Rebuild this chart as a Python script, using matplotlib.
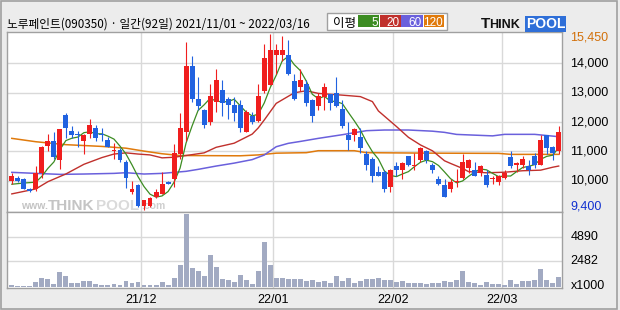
import numpy as np
import pandas as pd
import matplotlib.pyplot as plt
from matplotlib.patches import Rectangle

# 노루페인트(090350) 일봉 2021/11/01 ~ 2022/03/16, 92 거래일
opens = [10000, 10100, 10050, 9700, 9700, 10250, 11200, 11350, 10700, 12250,
         11700, 11600, 11350, 11600, 11800, 11600, 11400, 11000, 11050, 10650,
         9600, 9850, 9150, 9150, 9450, 9550, 9950, 10050, 10900, 11650,
         13900, 12800, 12400, 12000, 12700, 13100, 12800, 12600, 12600, 11650,
         12200, 12050, 13050, 13250, 14300, 14300, 14300, 13400, 13200, 13300,
         12750, 12550, 12850, 12950, 13000, 12450, 11550, 11550, 11500, 10900,
         10750, 10300, 10300, 9800, 10500, 10350, 10850, 10500, 10700, 11000,
         10550, 10050, 9850, 9700, 9950, 10100, 10450, 10350, 10250, 10200,
         10050, 9950, 10100, 10800, 10550, 10550, 10500, 10850, 10550, 11550,
         11150, 11000]
highs = [10250, 10150, 10100, 9750, 10500, 11200, 11600, 11650, 11750, 12300,
         11850, 11700, 11600, 12100, 11900, 11800, 11500, 11300, 11100, 10700,
         10000, 9900, 9350, 9450, 9700, 10300, 10000, 11250, 12300, 14750,
         14250, 13550, 12450, 13300, 13800, 13450, 12850, 12850, 12750, 12400,
         12350, 13300, 14650, 15000, 14650, 14950, 14800, 13650, 13800, 13450,
         12800, 13000, 13350, 12950, 13550, 12750, 12000, 11800, 11800, 11000,
         10800, 10500, 10350, 10400, 10650, 10650, 10850, 10950, 11150, 11050,
         10600, 10150, 10050, 10050, 10400, 10900, 10750, 10650, 10550, 10350,
         10150, 10200, 10350, 11000, 10650, 10850, 10700, 10950, 11550, 11550,
         11200, 11850]
lows = [9900, 9950, 9700, 9600, 9650, 10100, 11000, 10750, 10400, 11450,
        11450, 11150, 10900, 11450, 11350, 11350, 11150, 10750, 10650, 9750,
        9550, 9100, 9000, 9100, 9400, 9550, 9900, 9800, 10750, 11350,
        12700, 12400, 11800, 11900, 12350, 12200, 12100, 12050, 11650, 11650,
        11950, 12000, 13000, 13250, 13650, 14100, 13600, 12750, 13050, 12550,
        12000, 12400, 12400, 12400, 12500, 11800, 11050, 11350, 10950, 10350,
        9950, 10150, 9600, 9600, 10150, 10050, 10500, 10350, 10650, 10600,
        10250, 9850, 9450, 9600, 9800, 10050, 10250, 10150, 10150, 9800,
        9900, 9850, 10050, 10450, 10300, 10450, 10200, 10450, 10550, 10900,
        10700, 10900]
closes = [10150, 10000, 9700, 9650, 10250, 11150, 11350, 10800, 11750, 11800,
          11550, 11550, 11550, 11900, 11450, 11550, 11150, 11050, 10700, 10100,
          9700, 9150, 9350, 9400, 9600, 9900, 9900, 10950, 11800, 13900,
          12800, 12550, 11900, 12900, 13450, 12650, 12600, 12300, 11800, 12350,
          12000, 12900, 14200, 14450, 14450, 14450, 13650, 12800, 13450, 12650,
          12200, 12900, 13200, 12650, 12550, 11850, 11400, 11750, 11100, 10550,
          10150, 10150, 9700, 10350, 10350, 10600, 10550, 10550, 11100, 10700,
          10350, 9900, 9450, 9950, 10000, 10650, 10700, 10150, 10500, 9850,
          10050, 10150, 10250, 10500, 10600, 10750, 10350, 10550, 11400, 11100,
          10950, 11650]
volumes = [163, 65, 65, 65, 490, 850, 752, 262, 1439, 1046,
           392, 392, 556, 556, 262, 163, 163, 262, 163, 556,
           392, 458, 163, 163, 163, 458, 163, 850, 2158, 7129,
           1831, 1537, 1046, 3107, 1929, 752, 654, 458, 1145, 654,
           262, 1537, 4382, 2126, 850, 850, 752, 752, 752, 556,
           654, 490, 556, 392, 1046, 621, 850, 392, 621, 752,
           752, 850, 654, 654, 458, 556, 392, 392, 392, 327,
           392, 392, 556, 458, 654, 1537, 458, 360, 163, 458,
           262, 262, 163, 654, 327, 556, 556, 654, 1733, 654,
           360, 948]

# 이동평균선
ma5_head = [9880, 9900, 9920, 9935]
ma20_idx = [0, 4, 6, 9, 12, 15, 17, 19, 21, 23, 25, 27, 29, 32, 34, 37, 40, 41, 42,
            44, 45, 47, 49, 51, 55, 58, 60, 61, 64, 66, 68, 70, 72, 73, 75, 76, 79,
            82, 85, 88, 90, 91]
ma20_val = [9550, 9720, 9966, 10230, 10560, 10790, 10910, 10950, 10910, 10880, 10780,
            10800, 10860, 10950, 11140, 11280, 11590, 11800, 12070, 12640, 12760,
            13000, 13070, 12980, 12920, 12870, 12700, 12380, 11850, 11480, 11220,
            11020, 10680, 10590, 10420, 10310, 10270, 10290, 10340, 10360, 10460, 10500]
ma60_idx = [0, 4, 8, 12, 17, 19, 22, 25, 29, 31, 34, 37, 40, 42, 44, 46, 48, 51, 55,
            59, 62, 66, 70, 72, 74, 80, 82, 87, 91]
ma60_val = [10285, 10250, 10216, 10228, 10250, 10273, 10228, 10250, 10320, 10387,
            10500, 10600, 10720, 10876, 11160, 11275, 11340, 11445, 11570, 11707,
            11730, 11730, 11690, 11650, 11580, 11530, 11582, 11582, 11502]
ma120_idx = [0, 4, 9, 15, 19, 22, 25, 28, 38, 41, 44, 49, 51, 57, 59, 70, 81, 83, 91]
ma120_val = [11445, 11330, 11230, 11170, 11110, 11010, 10920, 10860, 10850, 10880,
             10940, 10956, 11024, 11024, 10956, 10940, 10933, 10899, 10899]

price_ticks = [10000, 11000, 12000, 13000, 14000]
price_labels = ['10,000', '11,000', '12,000', '13,000', '14,000']
vol_ticks = [2482, 4890]
month_pos = [21.5, 43.5, 63.5, 81.5]
month_labels = ['21/12', '22/01', '22/02', '22/03']

RED = '#f01e1e'
BLUE = '#2162e0'
C5, C20, C60, C120 = '#3c8c22', '#c0302c', '#6a60dc', '#e07a0c'
GRID = '#d9d9d9'
EDGE = '#a0a0a0'
num_font = ['Liberation Sans', 'DejaVu Sans']
kr_font = ['Noto Sans CJK KR', 'DejaVu Sans']

o = np.array(opens, float)
h = np.array(highs, float)
l = np.array(lows, float)
c = np.array(closes, float)
x = np.arange(len(c))
ma5 = pd.Series(c).rolling(5).mean().to_numpy()
ma5[:4] = ma5_head

fig = plt.figure(figsize=(6.2, 3.1), dpi=100, facecolor='#ececec')
W, H = 620, 310
L, R, T, M, B = 7.3, 562.3, 31.5, 212, 287.7
ax = fig.add_axes([L / W, (H - M) / H, (R - L) / W, (M - T) / H])
axv = fig.add_axes([L / W, (H - B) / H, (R - L) / W, (B - M) / H])

# 가격 패널
up = c >= o
col = np.where(up, RED, BLUE)
ax.vlines(x, l, h, colors=col, linewidth=0.8, zorder=3)
body_lo = np.minimum(o, c)
body_h = np.maximum(np.abs(c - o), 35)
ax.bar(x, body_h, bottom=body_lo, width=0.82, color=col, linewidth=0, zorder=4)
ax.plot(np.array(ma120_idx), ma120_val, color=C120, lw=1.1, zorder=2)
ax.plot(np.array(ma60_idx), ma60_val, color=C60, lw=1.1, zorder=2)
ax.plot(np.array(ma20_idx), ma20_val, color=C20, lw=1.0, zorder=2)
ax.plot(x, ma5, color=C5, lw=0.9, zorder=2)
ax.set_xlim(-0.75, 91.6)
ax.set_ylim(8932, 15092)
ax.set_yticks(price_ticks)
ax.set_xticks(month_pos)
ax.grid(color=GRID, lw=1)
ax.set_axisbelow(True)

# 워터마크
fx = lambda px: (px - L) / (R - L)
fy = lambda py: (M - py) / (M - T)
ax.text(fx(21), fy(209), 'www.', transform=ax.transAxes, fontsize=7.5,
        color='#c4c4c4', fontweight='bold', family=num_font, zorder=1)
ax.text(fx(48), fy(210), 'THINK', transform=ax.transAxes, fontsize=11,
        color='#c4c4c4', fontweight='bold', family=num_font, zorder=1)
ax.text(fx(96), fy(210), 'POOL', transform=ax.transAxes, fontsize=11,
        color='#dadada', fontweight='bold', family=num_font, zorder=1)
ax.text(fx(141), fy(209), '.com', transform=ax.transAxes, fontsize=7.5,
        color='#cfcfcf', fontweight='bold', family=num_font, zorder=1)

# 거래량 패널
axv.bar(x, volumes, width=0.82, color='#a2aac2', linewidth=0, zorder=3)
axv.set_xlim(-0.75, 91.6)
axv.set_ylim(-68, 7275)
axv.set_yticks(vol_ticks)
axv.set_xticks(month_pos)
axv.grid(color=GRID, lw=1)
axv.set_axisbelow(True)

for a in (ax, axv):
    a.set_facecolor('white')
    a.tick_params(length=0, labelleft=False, labelbottom=False)
    for s in a.spines.values():
        s.set_color(EDGE)
        s.set_linewidth(1)

# 머리글, 축 글자 (픽셀 좌표)
ov = fig.add_axes([0, 0, 1, 1], facecolor='none')
ov.set_xlim(0, W)
ov.set_ylim(H, 0)
ov.axis('off')
ov.add_patch(Rectangle((0.5, 0.5), 616.5, 308, fill=False, ec=EDGE, lw=1.2))

ov.text(7, 27.5, '노루페인트(090350) · 일간(92일) 2021/11/01 ~ 2022/03/16',
        family=kr_font, fontsize=8.4, va='baseline', ha='left', color='black')
ov.add_patch(Rectangle((327, 12.7), 120, 17.5, fc='white', ec=EDGE, lw=1))
ov.text(333, 26.5, '이평', family=kr_font, fontsize=9, va='baseline')
for (x0, x1), lab, cc in zip([(357.7, 378.7), (379.5, 400.5), (401.3, 422.7), (424, 444)],
                              ['5', '20', '60', '120'], [C5, C20, C60, C120]):
    ov.add_patch(Rectangle((x0, 15), x1 - x0, 12.3, fc=cc, ec='none'))
    ov.text(x1 - 1, 26, lab, family=num_font, fontsize=8.5, color='white',
            ha='right', va='baseline')

ov.text(481, 28, 'T', family=num_font, fontsize=11, fontweight='bold',
        va='baseline', color='#111111')
ov.text(489, 28, 'HINK', family=num_font, fontsize=9, fontweight='bold',
        va='baseline', color='#111111')
ov.text(526, 28, 'POOL', family=num_font, fontsize=10, fontweight='bold',
        va='baseline', color='white',
        bbox=dict(boxstyle='square,pad=0.08', fc='#2f6fd8', ec='none'))

price_to_y = lambda p: T + (15092 - p) / (15092 - 8932) * (M - T)
for p, lab in zip(price_ticks, price_labels):
    ov.text(570, price_to_y(p), lab, family=num_font, fontsize=9, va='center')
ov.text(570, 38, '15,450', family=num_font, fontsize=9, va='center', color='#d2700a')
ov.text(570, 206.5, '9,400', family=num_font, fontsize=9, va='center', color='#1030d0')
vol_to_y = lambda v: M + (7275 - v) / (7275 + 68) * (B - M)
for v in vol_ticks:
    ov.text(570.5, vol_to_y(v), str(v), family=num_font, fontsize=9, va='center')
ov.text(570.5, 286, 'x1000', family=num_font, fontsize=9, va='center')

for pos, lab in zip(month_pos, month_labels):
    px = L + (pos + 0.75) / (91.6 + 0.75) * (R - L)
    ov.text(px, 300, lab, family=num_font, fontsize=9, ha='center', va='center')

fig.savefig('out.png', dpi=100, facecolor=fig.get_facecolor())
